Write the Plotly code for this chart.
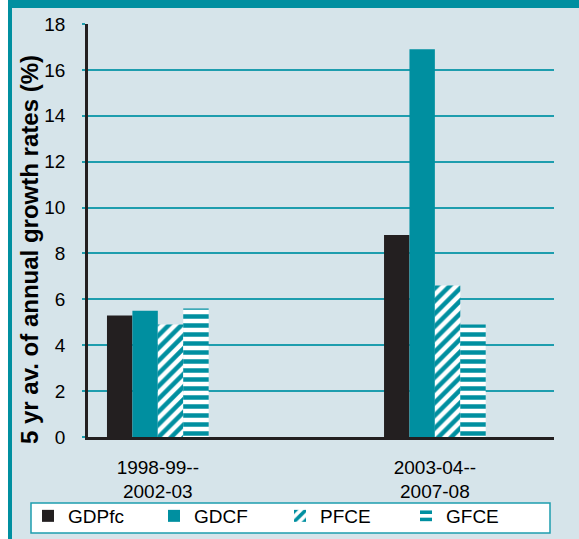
import plotly.graph_objects as go

categories = ["1998-99--<br>2002-03", "2003-04--<br>2007-08"]
series_names = ["GDPfc", "GDCF", "PFCE", "GFCE"]
gdpfc = [5.3, 8.8]
gdcf = [5.5, 16.9]
pfce = [4.9, 6.6]
gfce = [5.6, 4.9]
y_ticks = [0, 2, 4, 6, 8, 10, 12, 14, 16, 18]

TEAL = "#008FA0"
GRID = "#1E9DAE"
BLACK = "#231F20"
BG = "#D6E4EA"
FONT = "Liberation Sans, Arial, sans-serif"

W, H = 579, 539
L, R, T, B = 88, 25, 24, 102
PW, PH = W - L - R, H - T - B

def px_x(p):
    return (p - L) / PW

def px_y(p):
    return (H - B - p) / PH

fig = go.Figure()
fig.add_bar(name="GDPfc", x=categories, y=gdpfc, marker=dict(color=BLACK, line_width=0))
fig.add_bar(name="GDCF", x=categories, y=gdcf, marker=dict(color=TEAL, line_width=0))
fig.add_bar(name="PFCE", x=categories, y=pfce,
            marker=dict(color=TEAL, line_width=0,
                        pattern=dict(shape="/", fgcolor=TEAL, bgcolor="white",
                                     size=9, solidity=0.5, fillmode="replace")))
fig.add_bar(name="GFCE", x=categories, y=gfce,
            marker=dict(color=TEAL, line_width=0,
                        pattern=dict(shape="-", fgcolor=TEAL, bgcolor="white",
                                     size=9, solidity=0.5, fillmode="replace")))

shapes = [
    dict(type="rect", xref="paper", yref="paper", layer="above",
         x0=px_x(0), x1=px_x(8), y0=px_y(H), y1=px_y(0),
         fillcolor="white", line_width=0),
    dict(type="rect", xref="paper", yref="paper", layer="above",
         x0=px_x(8), x1=px_x(12), y0=px_y(H), y1=px_y(0),
         fillcolor=TEAL, line_width=0),
    dict(type="rect", xref="paper", yref="paper", layer="above",
         x0=px_x(8), x1=px_x(W), y0=px_y(8), y1=px_y(0),
         fillcolor=TEAL, line_width=0),
    # legend frame
    dict(type="rect", xref="paper", yref="paper", layer="above",
         x0=px_x(31), x1=px_x(550), y0=px_y(533), y1=px_y(503),
         fillcolor="white", line=dict(color=GRID, width=1.5)),
]

fig.update_layout(
    width=W, height=H,
    margin=dict(l=L, r=R, t=T, b=B, pad=0, autoexpand=False),
    paper_bgcolor=BG, plot_bgcolor=BG,
    font=dict(family=FONT, size=19, color="black"),
    barmode="group", bargap=0.633, bargroupgap=0,
    showlegend=True,
    legend=dict(orientation="h", x=px_x(28), y=px_y(497),
                xanchor="left", yanchor="top",
                bgcolor="rgba(0,0,0,0)", borderwidth=0,
                font=dict(family=FONT, size=19, color="black"),
                entrywidth=81, entrywidthmode="pixels",
                tracegroupgap=0, itemwidth=30,
                traceorder="normal", itemclick=False),
    shapes=shapes,
    annotations=[dict(text="<b>5 yr av. of annual growth rates (%)</b>",
                      xref="paper", yref="paper", x=px_x(30), y=px_y(250),
                      xanchor="center", yanchor="middle", textangle=-90,
                      showarrow=False, font=dict(size=24, family=FONT, color="black"))],
    xaxis=dict(range=[-0.252, 1.43], showgrid=False, zeroline=False,
               showline=True, linecolor=BLACK, linewidth=2.5,
               ticks="", tickfont=dict(size=19), ticklabelstandoff=11,
               automargin=False, fixedrange=True),
    yaxis=dict(range=[0, 18], tickvals=y_ticks, showgrid=True,
               gridcolor=GRID, gridwidth=1.5, zeroline=False,
               showline=True, linecolor=BLACK, linewidth=2.5,
               ticks="outside", ticklen=3, tickcolor=GRID, tickwidth=1.5,
               ticklabelstandoff=13, tickfont=dict(size=19),
               automargin=False, fixedrange=True),
)

fig.write_html("out.html",
               config={"displayModeBar": False},
               post_script="document.body.style.margin='0';document.body.style.overflow='hidden';")
